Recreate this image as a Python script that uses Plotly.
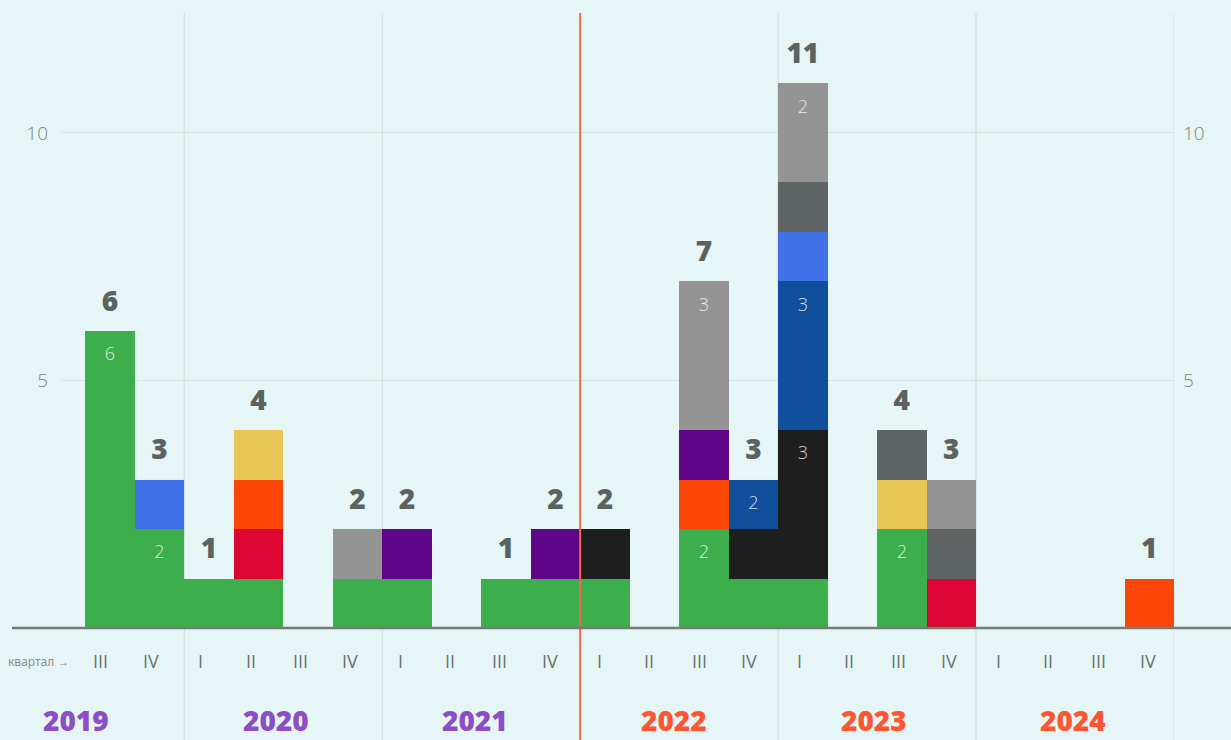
import plotly.graph_objects as go

# ---------------- data ----------------
quarters = ["III", "IV",
            "I", "II", "III", "IV",
            "I", "II", "III", "IV",
            "I", "II", "III", "IV",
            "I", "II", "III", "IV",
            "I", "II", "III", "IV"]
years = ["2019", "2020", "2021", "2022", "2023", "2024"]
year_colors = ["#8c4dc7", "#8c4dc7", "#8c4dc7", "#ff5530", "#ff5530", "#ff5530"]
# slot index of quarter I of every year (2019 starts at quarter III)
year_first_slot = [-2, 2, 6, 10, 14, 18]

green     = [6, 2, 1, 1, 0, 1, 1, 0, 1, 1, 1, 0, 2, 1, 1, 0, 2, 0, 0, 0, 0, 0]
crimson   = [0, 0, 0, 1, 0, 0, 0, 0, 0, 0, 0, 0, 0, 0, 0, 0, 0, 1, 0, 0, 0, 0]
orange    = [0, 0, 0, 1, 0, 0, 0, 0, 0, 0, 0, 0, 1, 0, 0, 0, 0, 0, 0, 0, 0, 1]
yellow    = [0, 0, 0, 1, 0, 0, 0, 0, 0, 0, 0, 0, 0, 0, 0, 0, 1, 0, 0, 0, 0, 0]
purple    = [0, 0, 0, 0, 0, 0, 1, 0, 0, 1, 0, 0, 1, 0, 0, 0, 0, 0, 0, 0, 0, 0]
black     = [0, 0, 0, 0, 0, 0, 0, 0, 0, 0, 1, 0, 0, 1, 3, 0, 0, 0, 0, 0, 0, 0]
darkblue  = [0, 0, 0, 0, 0, 0, 0, 0, 0, 0, 0, 0, 0, 1, 3, 0, 0, 0, 0, 0, 0, 0]
lightblue = [0, 1, 0, 0, 0, 0, 0, 0, 0, 0, 0, 0, 0, 0, 1, 0, 0, 0, 0, 0, 0, 0]
darkgray  = [0, 0, 0, 0, 0, 0, 0, 0, 0, 0, 0, 0, 0, 0, 1, 0, 1, 1, 0, 0, 0, 0]
gray      = [0, 0, 0, 0, 0, 1, 0, 0, 0, 0, 0, 0, 3, 0, 2, 0, 0, 1, 0, 0, 0, 0]

series_names = ["green", "crimson", "orange", "yellow", "purple",
                "black", "darkblue", "lightblue", "darkgray", "gray"]
series_values = [green, crimson, orange, yellow, purple,
                 black, darkblue, lightblue, darkgray, gray]
series_colors = ["#3cae4b", "#dc0632", "#fb460a", "#e8c556", "#5e0588",
                 "#1e1e1e", "#0f4f9c", "#4272e8", "#5f6564", "#949494"]

# labels written inside segments
inner_series = ["green", "green", "green", "green", "gray", "gray", "darkblue", "darkblue", "black"]
inner_slot   = [0, 1, 12, 16, 12, 14, 13, 14, 14]
inner_text   = ["6", "2", "2", "2", "3", "2", "2", "3", "3"]

# ---------------- figure ----------------
BG = "#e6f5f5"
YMAX = 12.424
n = len(quarters)
slots = list(range(n))

fig = go.Figure()

for name, vals, col in zip(series_names, series_values, series_colors):
    fig.add_trace(go.Bar(
        x=slots, y=vals, name=name, width=1.0,
        marker=dict(color=col, line=dict(width=0)),
        hoverinfo="skip", showlegend=False,
    ))

totals = [sum(s[i] for s in series_values) for i in slots]
tot_x = [i for i in slots if totals[i] > 0]
tot_y = [totals[i] + 0.55 for i in tot_x]
tot_t = [str(totals[i]) for i in tot_x]
fig.add_trace(go.Scatter(
    x=tot_x, y=tot_y, text=tot_t, mode="text", yaxis="y2",
    textfont=dict(family="Open Sans", size=28, color="#5b6361", weight=800),
    cliponaxis=False, hoverinfo="skip", showlegend=False,
))

# inner labels: centered in the top unit cell of the segment
in_x, in_y = [], []
for sname, slot in zip(inner_series, inner_slot):
    k = series_names.index(sname)
    top = sum(series_values[j][slot] for j in range(k + 1))
    in_x.append(slot)
    in_y.append(top - 0.5)
fig.add_trace(go.Scatter(
    x=in_x, y=in_y, text=inner_text, mode="text",
    textfont=dict(family="Open Sans", size=18, color="rgba(255,255,255,0.82)", weight=300),
    cliponaxis=False, hoverinfo="skip", showlegend=False,
))

annotations = []
# quarter labels (on the label grid of xaxis2), placed below the baseline
q_y = -0.667 / YMAX
for i, q in enumerate(quarters):
    annotations.append(dict(
        x=i, xref="x2", y=q_y, yref="paper", text=q, showarrow=False,
        xanchor="center", yanchor="middle",
        font=dict(family="Open Sans", size=18, color="#6b7371"),
    ))
annotations.append(dict(
    x=0, xref="paper", y=q_y, yref="paper", text="квартал →", showarrow=False,
    xanchor="right", yanchor="middle", xshift=9,
    font=dict(family="Noto Sans", size=12, color="#86908e"),
))
y_year = -1.86 / YMAX
for yr, f, c in zip(years, year_first_slot, year_colors):
    annotations.append(dict(
        x=f + 1.5, xref="x2", y=y_year, yref="paper", text=yr, showarrow=False,
        xanchor="center", yanchor="middle",
        font=dict(family="Open Sans", size=28, color=c, weight=800),
    ))

# year separators
shapes = []
for f in year_first_slot[1:] + [22]:
    xv = f - 0.5
    red = (xv == 9.5)
    shapes.append(dict(
        type="line", xref="x", yref="paper", x0=xv, x1=xv, y0=-0.2, y1=1,
        line=dict(color="#f7694a" if red else "#cddcda", width=2 if red else 1),
        layer="above" if red else "below",
    ))
# baseline
shapes.append(dict(
    type="line", xref="paper", yref="paper", x0=-0.045, x1=1.06, y0=0, y1=0,
    line=dict(color="#737c7a", width=2.5), layer="above",
))

fig.update_layout(
    width=1231, height=740,
    margin=dict(l=62, r=57, t=13, b=112),
    paper_bgcolor=BG, plot_bgcolor=BG,
    barmode="stack", bargap=0,
    shapes=shapes, annotations=annotations,
    xaxis=dict(range=[-0.97, 21.5], visible=False, fixedrange=True),
    xaxis2=dict(range=[-0.782, 21.52], overlaying="x", visible=False, fixedrange=True),
    yaxis=dict(range=[0, YMAX], tickvals=[5, 10], showgrid=True, gridcolor="#d2e3e1",
               gridwidth=1, zeroline=False, showline=False, ticks="",
               ticklabelstandoff=13, fixedrange=True,
               tickfont=dict(family="Open Sans", size=19, color="#7b8482", weight=300)),
    yaxis2=dict(range=[0, YMAX], tickvals=[5, 10], overlaying="y", side="right",
                showgrid=False, zeroline=False, showline=False, ticks="",
                ticklabelstandoff=8, fixedrange=True,
                tickfont=dict(family="Open Sans", size=19, color="#7b8482", weight=300)),
)

fig.write_html(
    "out.html",
    config={"displayModeBar": False},
    post_script="document.body.style.margin='0';document.body.style.background='%s';" % BG,
)
